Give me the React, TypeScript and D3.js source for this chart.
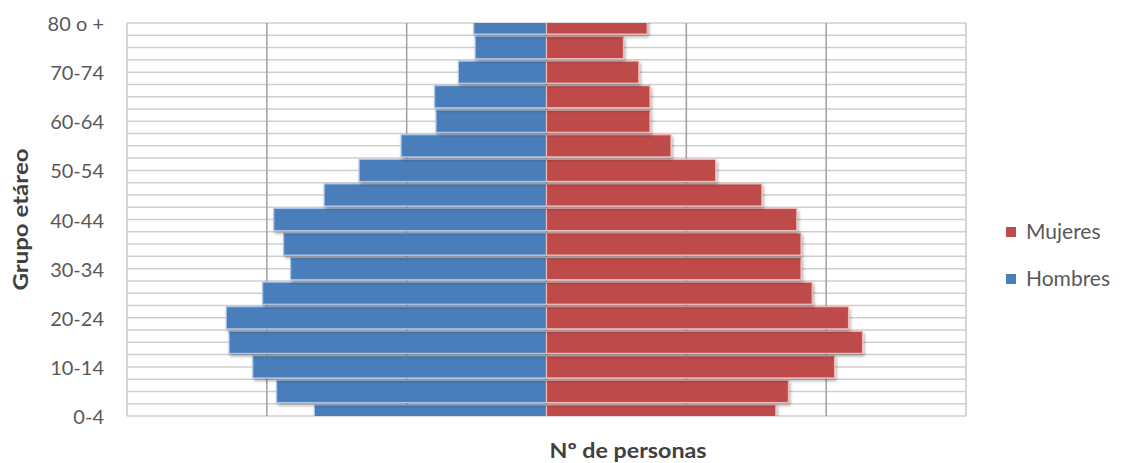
import React from "react";
import * as d3 from "d3";

const categories = [
  "0-4", "5-9", "10-14", "15-19", "20-24", "25-29", "30-34", "35-39", "40-44",
  "45-49", "50-54", "55-59", "60-64", "65-69", "70-74", "75-79", "80 o +",
];
const hombres = [1660, 1930, 2100, 2270, 2290, 2030, 1830, 1880, 1950, 1590, 1340, 1040, 790, 800, 630, 510, 520];
const mujeres = [1640, 1730, 2060, 2260, 2160, 1900, 1820, 1820, 1790, 1540, 1210, 890, 740, 740, 660, 550, 720];
const xGridValues = [-3000, -2000, -1000, 0, 1000, 2000, 3000];
const legendItems = [
  { name: "Mujeres", color: "#be4b48" },
  { name: "Hombres", color: "#4a7ebb" },
];
const yTitle = "Grupo etáreo";
const xTitle = "Nº de personas";

const W = 1121;
const H = 463;
const plot = { left: 127, right: 966, top: 23, bottom: 416 };

export default function App() {
  const x = d3.scaleLinear().domain([-3000, 3000]).range([plot.left, plot.right]);
  const y = d3.scalePoint<string>().domain([...categories].reverse()).range([plot.top, plot.bottom]).padding(0);
  const step = y.step();
  const barH = step * 0.9;
  const halfLines = d3.range(0, categories.length * 2 - 1).map((i) => plot.top + (i * step) / 2);
  const font = "Lato, 'Open Sans', sans-serif";

  return (
    <svg width={W} height={H} style={{ position: "absolute", left: 0, top: 0, background: "#fff" }}>
      <defs>
        <clipPath id="plotClip">
          <rect x={plot.left} y={plot.top} width={plot.right - plot.left} height={plot.bottom - plot.top} />
        </clipPath>
        <filter id="shadow" x="-10%" y="-30%" width="120%" height="180%">
          <feDropShadow dx="1.5" dy="2.5" stdDeviation="1.5" floodColor="#000" floodOpacity="0.3" />
        </filter>
      </defs>
      {halfLines.map((yy, i) => (
        <line key={"h" + i} x1={plot.left} x2={plot.right} y1={yy} y2={yy} stroke="#cfcfcf" strokeWidth={1.5} />
      ))}
      {xGridValues.map((v) => (
        <line key={"v" + v} x1={x(v)} x2={x(v)} y1={plot.top} y2={plot.bottom}
          stroke={v === -3000 || v === 3000 ? "#c8c8c8" : "#a0a0a0"} strokeWidth={1.5} />
      ))}
      <g clipPath="url(#plotClip)">
        {categories.map((c, i) => {
          const cy = y(c)!;
          return (
            <g key={c} filter="url(#shadow)">
              <rect x={x(-hombres[i])} y={cy - barH / 2} width={x(0) - x(-hombres[i])} height={barH}
                fill="#4a7ebb" stroke="#a9c4e8" strokeWidth={1.2} />
              <rect x={x(0)} y={cy - barH / 2} width={x(mujeres[i]) - x(0)} height={barH}
                fill="#be4b48" stroke="#f2b8b6" strokeWidth={1.2} />
            </g>
          );
        })}
      </g>
      {categories.map((c, i) =>
        (categories.length - 1 - i) % 2 === 0 ? (
          <text key={"t" + c} x={104} y={y(c)! + 1} dy="0.35em" textAnchor="end"
            fontFamily={font} fontSize={20} fill="#595959">{c}</text>
        ) : null
      )}
      <text transform={`translate(28,${(plot.top + plot.bottom) / 2}) rotate(-90)`} textAnchor="middle"
        fontFamily={font} fontSize={21} fontWeight="bold" fill="#404040" textLength={142} lengthAdjust="spacingAndGlyphs">{yTitle}</text>
      <text x={628} y={458} textAnchor="middle" fontFamily={font} fontSize={21} fontWeight="bold" fill="#404040"
        textLength={157} lengthAdjust="spacingAndGlyphs">{xTitle}</text>
      {legendItems.map((it, i) => (
        <g key={it.name} transform={`translate(1006,${232 + i * 47})`}>
          <rect x={0} y={-5} width={10} height={10} fill={it.color} />
          <text x={20} y={0} dy="0.35em" fontFamily={font} fontSize={21} fill="#595959">{it.name}</text>
        </g>
      ))}
    </svg>
  );
}
